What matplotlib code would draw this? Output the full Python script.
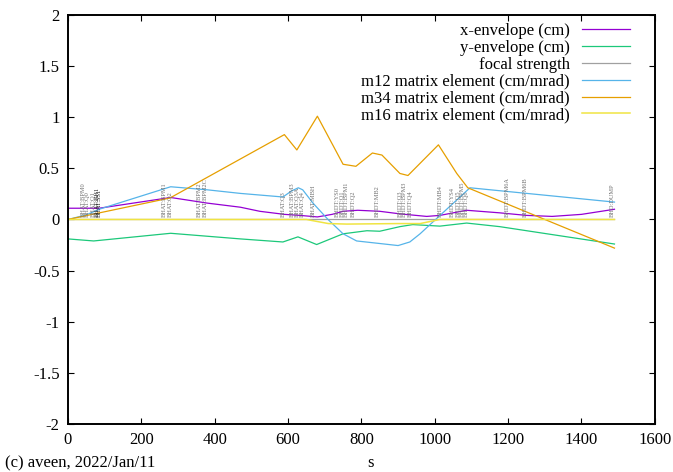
import numpy as np
import matplotlib
matplotlib.use("Agg")
import matplotlib.pyplot as plt

plt.rcParams["font.family"] = ["Liberation Serif", "DejaVu Serif"]

# curves: (s, value)
s_x = [0, 50, 85, 280, 380, 470, 523, 590, 632, 680, 720, 750, 790, 850, 905, 978, 1014, 1087, 1177, 1250, 1320, 1400, 1490]
x_env = [0.11, 0.11, 0.11, 0.215, 0.16, 0.12, 0.08, 0.05, 0.04, 0.025, 0.05, 0.08, 0.09, 0.08, 0.055, 0.03, 0.04, 0.09, 0.065, 0.04, 0.03, 0.05, 0.1]

s_y = [0, 70, 280, 470, 586, 627, 678, 750, 815, 850, 905, 940, 1014, 1087, 1177, 1490]
y_env = [-0.19, -0.21, -0.135, -0.19, -0.22, -0.17, -0.245, -0.14, -0.11, -0.115, -0.07, -0.05, -0.065, -0.035, -0.07, -0.24]

s_f = [0, 1490]
focal = [0, 0]

s_m12 = [0, 50, 85, 280, 380, 470, 586, 610, 628, 640, 668, 709, 750, 787, 850, 900, 932, 960, 1096, 1490]
m12 = [0, 0.045, 0.1, 0.32, 0.29, 0.255, 0.22, 0.28, 0.31, 0.29, 0.16, 0.0, -0.14, -0.21, -0.235, -0.255, -0.22, -0.14, 0.31, 0.17]

s_m34 = [0, 278, 590, 624, 680, 750, 785, 830, 856, 905, 927, 1010, 1060, 1090, 1490]
m34 = [0, 0.21, 0.83, 0.68, 1.01, 0.54, 0.52, 0.65, 0.63, 0.45, 0.43, 0.73, 0.45, 0.31, -0.28]

s_m16 = [0, 650, 710, 760, 900, 960, 1014, 1490]
m16 = [0, 0, -0.04, -0.045, -0.04, -0.04, 0, 0]

# element markers
elem_s = [41, 54, 68, 79, 86, 262, 278, 357, 373, 586, 611, 624, 638, 668,
          733, 747, 760, 777, 842, 905, 918, 932, 1014, 1047, 1063, 1074, 1087,
          1199, 1246, 1483]
elem_names = ["BHAT:BPM0", "BHAT:Q0", "BHAT:Q1", "BHAT:BH1", "BHAT:SS1",
              "BHAT:BPM1", "BHAT:Q2", "BHAT:BPM2", "BHAT:BPM2C",
              "BHAT:Q3", "BHAT:BPM3", "BHAT:Q3A", "BHAT:Q4", "BHAT:MBH",
              "BHDT:YS0", "BHDT:Q1", "BHDT:BPM1", "BHDT:Q2", "BHDT:MB2",
              "BHDT:Q3", "BHDT:BPM3", "BHDT:Q4", "BHDT:MB4", "BHDT:YS4",
              "BHDT:Q5", "BHDT:BPM5", "BHDT:Q6", "BHDT:BPM6A", "BHDT:BPM6B",
              "BHD:DUMP"]

fig = plt.figure(figsize=(6.73, 4.72), dpi=100)
ax = fig.add_axes([0.101, 0.1017, 0.872, 0.8666])

for s, name in zip(elem_s, elem_names):
    col = "#222222" if name in ("BHAT:BH1", "BHAT:SS1") else "#707070"
    ax.text(s, 0.02, name, rotation=90, ha="center", va="bottom",
            fontsize=4.6, color=col)

lw = 0.9
ax.plot(s_x, x_env, color="#9400d3", lw=lw, label="x-envelope (cm)")
ax.plot(s_y, y_env, color="#1cc87a", lw=lw, label="y-envelope (cm)")
ax.plot(s_f, focal, color="#a0a0a0", lw=lw, label="focal strength")
ax.plot(s_m12, m12, color="#56b4e9", lw=lw, label="m12 matrix element (cm/mrad)")
ax.plot(s_m34, m34, color="#e69f00", lw=lw, label="m34 matrix element (cm/mrad)")
ax.plot(s_m16, m16, color="#f0e442", lw=1.1, label="m16 matrix element (cm/mrad)")

ax.set_xlim(0, 1600)
ax.set_ylim(-2, 2)
ax.set_xticks(np.arange(0, 1601, 200))
ax.set_yticks(np.arange(-2, 2.01, 0.5))
ax.set_yticklabels(["-2", "-1.5", "-1", "-0.5", "0", "0.5", "1", "1.5", "2"])
ax.tick_params(direction="in", top=True, right=True, length=4.5, width=0.8,
               labelsize=12, pad=6, colors="black")
for sp in ax.spines.values():
    sp.set_linewidth(1.4)

ax.legend(loc="upper right", bbox_to_anchor=(0.957, 0.98), frameon=False,
          markerfirst=False, fontsize=12, handlelength=2.85, handletextpad=0.75,
          labelspacing=0.05, borderaxespad=0, borderpad=0)

fig.text(5 / 673, 1 - 463 / 472, "(c) aveen, 2022/Jan/11", fontsize=12,
         ha="left", va="center")
fig.text(370 / 673, 1 - 463 / 472, "s", fontsize=12, ha="center", va="center")

fig.savefig("out.png", dpi=100)
